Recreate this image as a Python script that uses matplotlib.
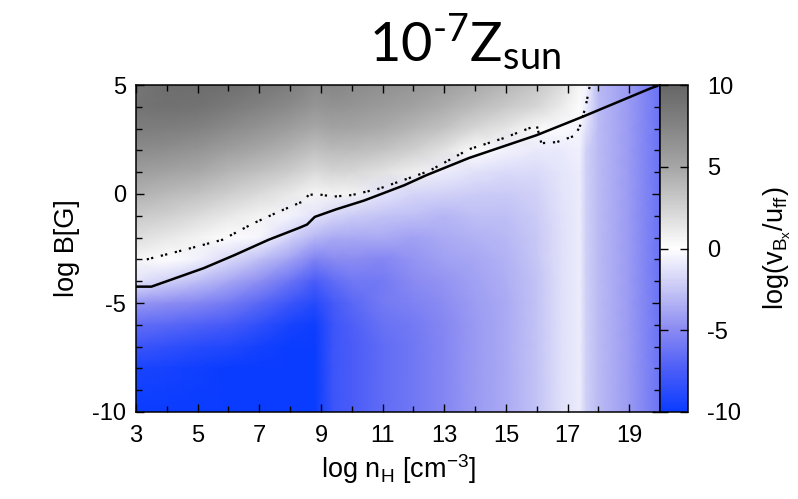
import numpy as np
import matplotlib.pyplot as plt
from matplotlib.colors import LinearSegmentedColormap
from matplotlib.ticker import MultipleLocator, FixedLocator

# grid of the colour map
nH_cols = [3, 4, 5, 6, 7, 8, 8.8, 9.4, 10, 11, 12, 13, 14, 15, 16, 16.8, 17.4, 17.6, 18, 19, 20]
B_rows = [5, 4, 3, 2, 1, 0, -1, -2, -3, -4, -5, -6, -7, -8, -10]

# log(v_Bx/u_ff), one list per nH column, top (B=5) to bottom (B=-10)
vB_cols = [
    [8.7, 8.8, 8.1, 6.9, 5.6, 4.3, 3.0, 1.8, 0.5, -1.2, -4.5, -6.5, -8.0, -9.3, -10],
    [9.3, 9.0, 8.0, 6.7, 5.2, 3.9, 2.6, 1.3, 0.0, -2.0, -4.8, -6.8, -8.4, -9.5, -10],
    [9.4, 8.9, 7.6, 6.2, 4.8, 3.4, 2.0, 0.7, -0.6, -2.8, -5.2, -7.2, -8.8, -9.7, -10],
    [9.2, 8.3, 7.0, 5.5, 4.1, 2.7, 1.3, 0.1, -1.6, -3.8, -5.8, -7.6, -9.0, -10, -10],
    [8.6, 7.6, 6.3, 4.9, 3.5, 2.0, 0.6, -0.4, -2.8, -4.8, -6.8, -8.5, -9.6, -10, -10],
    [8.0, 7.0, 5.6, 4.2, 2.8, 1.2, -0.5, -2.0, -4.0, -6.2, -8.0, -9.4, -10, -10, -10],
    [7.0, 6.1, 4.9, 3.5, 2.0, 0.5, -1.2, -3.2, -5.4, -7.5, -8.9, -9.8, -10, -10, -10],
    [7.3, 6.4, 5.2, 3.8, 2.3, 0.7, -1.8, -3.6, -5.0, -6.6, -7.6, -8.0, -8.0, -8.0, -8.0],
    [7.0, 6.2, 5.1, 3.7, 2.2, 0.6, -2.2, -3.7, -4.9, -6.0, -6.8, -7.3, -7.5, -7.5, -7.5],
    [6.6, 5.8, 4.7, 3.3, 1.6, -1.2, -2.6, -3.6, -5.2, -5.8, -5.8, -6.3, -6.6, -6.6, -6.6],
    [6.1, 5.3, 4.1, 2.6, 0.8, -1.8, -2.8, -4.0, -4.6, -5.0, -5.4, -5.8, -6.0, -6.0, -6.0],
    [5.6, 4.6, 3.3, 1.5, -0.8, -2.0, -3.2, -3.6, -4.0, -4.6, -4.9, -5.1, -5.2, -5.2, -5.2],
    [4.8, 3.8, 2.2, 0.1, -1.3, -2.2, -2.8, -3.3, -3.8, -4.0, -4.2, -4.3, -4.3, -4.3, -4.3],
    [4.0, 3.0, 1.4, -0.6, -1.6, -2.3, -2.8, -3.1, -3.3, -3.5, -3.6, -3.6, -3.6, -3.6, -3.6],
    [3.2, 2.2, 0.3, -1.0, -1.6, -2.0, -2.2, -2.4, -2.5, -2.6, -2.6, -2.6, -2.6, -2.6, -2.6],
    [2.0, 1.1, -0.2, -0.9, -1.1, -1.2, -1.3, -1.4, -1.4, -1.4, -1.4, -1.4, -1.4, -1.4, -1.4],
    [0.5, 0.1, -0.4, -0.7, -0.8, -0.8, -0.8, -0.8, -0.8, -0.8, -0.8, -0.8, -0.8, -0.8, -0.8],
    [-0.4, -0.8, -1.4, -2.0, -2.1, -2.1, -2.1, -2.1, -2.1, -2.1, -2.1, -2.1, -2.1, -2.1, -2.1],
    [-3.0, -2.9, -2.9, -2.9, -2.9, -2.9, -2.9, -2.9, -2.9, -2.9, -2.9, -2.9, -2.9, -2.9, -2.9],
    [-4.3, -4.3, -4.3, -4.3, -4.3, -4.3, -4.3, -4.3, -4.3, -4.3, -4.3, -4.3, -4.3, -4.3, -4.3],
    [-6.2, -6.2, -6.2, -6.2, -6.2, -6.2, -6.2, -6.2, -6.2, -6.2, -6.2, -6.2, -6.2, -6.2, -6.2],
]

# solid curve
solid_n = [3, 3.5, 4.1, 5.2, 6.2, 7.3, 8.3, 8.55, 8.8, 9.5, 10.4, 11.7, 12.4, 13.8, 16.0, 17.5, 19.7, 19.9]
solid_B = [-4.25, -4.25, -3.95, -3.4, -2.8, -2.1, -1.55, -1.4, -1.05, -0.7, -0.3, 0.4, 0.85, 1.65, 2.7, 3.55, 4.85, 4.95]

# dotted curve
dot_n = [3.35, 4.6, 5.8, 6.8, 7.65, 8.4, 8.6, 8.85, 9.4, 10.0, 10.9, 12.5, 13.8, 14.9, 16.0,
         16.15, 16.65, 17.25, 17.43, 17.6, 17.72]
dot_B = [-3.0, -2.55, -2.1, -1.35, -0.8, -0.35, -0.05, 0.0, -0.12, -0.05, 0.25, 1.05, 2.05, 2.55, 3.15,
         2.33, 2.38, 2.68, 3.2, 4.1, 4.95]

x_ticks = [3, 5, 7, 9, 11, 13, 15, 17, 19]
cb_ticks = [-10, -5, 0, 5, 10]

cmap = LinearSegmentedColormap.from_list("bwg", [
    (0.0, "#0a3cff"), (0.125, "#4a5cf8"), (0.25, "#8a8af2"), (0.375, "#c6c6f6"),
    (0.5, "#ffffff"), (0.625, "#d2d2d2"), (0.75, "#a6a6a6"), (0.875, "#848484"),
    (1.0, "#666666")])

plt.rcParams['font.family'] = ['Liberation Sans', 'DejaVu Sans']
plt.rcParams['axes.unicode_minus'] = False

fig = plt.figure(figsize=(7.98, 4.99), dpi=100)
ax = fig.add_axes([136/798, 1-412/499, 524/798, 327/499])
cax = fig.add_axes([660/798, 1-412/499, 28/798, 327/499])

X, Y = np.meshgrid(nH_cols, B_rows)
Z = np.array(vB_cols).T
mesh = ax.pcolormesh(X, Y, Z, shading='gouraud', cmap=cmap, vmin=-10, vmax=10)

ax.plot(solid_n, solid_B, color='black', lw=1.8)
ax.plot(dot_n, dot_B, color='black', lw=1.6, linestyle=(0, (1, 1, 1, 3.5)))

ax.set_xlim(3, 20)
ax.set_ylim(-10, 5)
ax.xaxis.set_major_locator(FixedLocator(x_ticks))
ax.xaxis.set_minor_locator(MultipleLocator(1))
ax.yaxis.set_major_locator(MultipleLocator(5))
ax.yaxis.set_minor_locator(MultipleLocator(1))
ax.tick_params(which='both', direction='in', top=True, right=True, labelsize=17, width=1)
ax.tick_params(which='major', length=6)
ax.tick_params(which='minor', length=4)
ax.tick_params(axis='x', pad=9)
ax.tick_params(axis='y', pad=7)
for s in ax.spines.values():
    s.set_linewidth(1.1)

ax.set_xlabel(r'log n$_{\mathregular{H}}$ [cm$^{\mathregular{-3}}$]', fontsize=19.5, labelpad=4)
ax.set_ylabel('log B[G]', fontsize=19.5, labelpad=9)

cb = fig.colorbar(mesh, cax=cax, ticks=cb_ticks)
cb.outline.set_linewidth(1.1)
cax.tick_params(direction='in', length=6, left=True, right=True, labelsize=17, pad=14, width=1)
cb.set_label(r'log(v$_{\mathregular{B_x}}$/u$_{\mathregular{ff}}$)', fontsize=19.5, labelpad=14)

fig.text(0.583, 0.876, '$\\mathregular{10^{\u20107}Z_{sun}}$', fontsize=39, family='Lato',
         ha='center', va='baseline')

fig.savefig('out.png', dpi=100)
